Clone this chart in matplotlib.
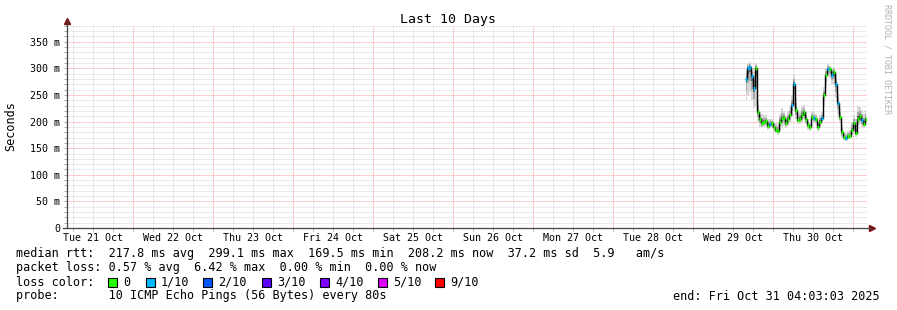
import numpy as np
import pandas as pd
import matplotlib
matplotlib.use("Agg")
import matplotlib.pyplot as plt
import matplotlib.dates as mdates
from matplotlib.patches import Rectangle
from matplotlib.ticker import MultipleLocator, FuncFormatter
from matplotlib.transforms import blended_transform_factory

# time window of the graph
t_start = pd.Timestamp("2025-10-21 04:03:03")
t_end = pd.Timestamp("2025-10-31 04:03:03")
t_first = pd.Timestamp("2025-10-29 15:40")
step = "36min"

# median rtt in ms
median_ms = [280, 300, 302, 285, 263, 300, 218, 205, 197, 200,
             201, 192, 196, 197, 190, 184, 182, 200, 207, 207,
             197, 205, 212, 231, 270, 222, 203, 205, 212, 218,
             205, 194, 190, 209, 207, 205, 190, 200, 207, 250,
             288, 299, 299, 288, 293, 270, 235, 209, 180, 172,
             169, 173, 173, 185, 197, 178, 205, 210, 203, 196,
             205]
# lost pings out of 10
loss = [1, 1, 1, 1, 1, 0, 0, 0, 0, 0,
        0, 0, 1, 0, 0, 0, 0, 0, 0, 0,
        0, 0, 0, 1, 1, 0, 0, 0, 0, 0,
        0, 0, 0, 0, 1, 0, 0, 0, 1, 0,
        0, 1, 0, 1, 0, 1, 1, 0, 0, 0,
        1, 0, 0, 0, 0, 0, 0, 0, 1, 0,
        0]
# smoke (min / max of the pings)
smoke_lo = [240, 250, 255, 240, 225, 230, 200, 190, 188, 190,
            192, 185, 188, 188, 182, 178, 175, 185, 190, 192,
            188, 192, 198, 210, 230, 205, 195, 195, 200, 205,
            195, 185, 182, 198, 198, 195, 182, 190, 198, 230,
            265, 285, 282, 270, 270, 245, 215, 198, 172, 165,
            164, 167, 168, 175, 180, 172, 192, 195, 190, 188,
            192]
smoke_hi = [300, 310, 312, 300, 295, 310, 240, 220, 215, 212,
            212, 205, 205, 205, 200, 198, 195, 215, 225, 220,
            210, 220, 228, 250, 290, 245, 218, 220, 230, 232,
            220, 205, 200, 220, 218, 215, 200, 212, 218, 265,
            300, 308, 305, 300, 302, 290, 255, 225, 195, 180,
            178, 182, 185, 200, 212, 205, 230, 228, 222, 215,
            222]

day_labels = ["Tue 21 Oct", "Wed 22 Oct", "Thu 23 Oct", "Fri 24 Oct", "Sat 25 Oct",
              "Sun 26 Oct", "Mon 27 Oct", "Tue 28 Oct", "Wed 29 Oct", "Thu 30 Oct"]
loss_names = ["0", "1/10", "2/10", "3/10", "4/10", "5/10", "9/10"]
loss_colors = ["#26ff00", "#00b8ff", "#0059ff", "#5e00ff", "#7e00ff", "#dd00ff", "#ff0000"]

legend_rtt = "median rtt:  217.8 ms avg  299.1 ms max  169.5 ms min  208.2 ms now  37.2 ms sd  5.9   am/s"
legend_loss = "packet loss: 0.57 % avg  6.42 % max  0.00 % min  0.00 % now"
legend_probe = "probe:       10 ICMP Echo Pings (56 Bytes) every 80s"
legend_end = "end: Fri Oct 31 04:03:03 2025"

W, H = 897, 310
mono = "DejaVu Sans Mono"
plt.rcParams["font.family"] = mono

fig = plt.figure(figsize=(W / 100, H / 100), dpi=100)
ax = fig.add_axes([67 / W, 82 / H, 800 / W, 203 / H])

times = pd.date_range(t_first, periods=len(median_ms), freq=step).to_pydatetime()
tnum = mdates.date2num(times)
med = np.array(median_ms, float)
lo = np.array(smoke_lo, float)
hi = np.array(smoke_hi, float)

# smoke
ax.fill_between(tnum, lo, hi, step="mid", color="#d6d6d6", lw=0, zorder=2)
ax.fill_between(tnum, med - 0.55 * (med - lo), med + 0.55 * (hi - med), step="mid",
                color="#a8a8a8", lw=0, zorder=2)
ax.fill_between(tnum, med - 0.2 * (med - lo), med + 0.2 * (hi - med), step="mid",
                color="#6a6a6a", lw=0, zorder=2)

# median line + loss colour
ax.plot(tnum, med, drawstyle="steps-mid", color="black", lw=1.0, zorder=3)
half = (tnum[1] - tnum[0]) / 2
ax.hlines(med, tnum - half, tnum + half, colors=[loss_colors[l] for l in loss], lw=2.5, zorder=4)

ax.set_xlim(mdates.date2num(t_start.to_pydatetime()), mdates.date2num(t_end.to_pydatetime()))
ax.set_ylim(0, 381.6)

# grid
ax.xaxis.set_major_locator(mdates.DayLocator())
ax.xaxis.set_minor_locator(mdates.HourLocator(byhour=[6, 12, 18]))
ax.xaxis.set_major_formatter(plt.NullFormatter())
ax.yaxis.set_major_locator(MultipleLocator(50))
ax.yaxis.set_minor_locator(MultipleLocator(10))
ax.yaxis.set_major_formatter(FuncFormatter(lambda v, p: "0" if v == 0 else f"{int(v)} m"))
ax.grid(which="major", color="#ff8c8c", lw=0.6, ls=(0, (1, 1)), zorder=0)
ax.grid(which="minor", color="#cfcfcf", lw=0.6, ls=(0, (1, 1)), zorder=0)
ax.set_axisbelow(True)
ax.tick_params(which="both", direction="out", length=2, width=0.5, color="#888888",
               labelsize=7.2, pad=3)

for s in ax.spines.values():
    s.set_visible(False)
ax.plot([0, 0], [0, 1.02], transform=ax.transAxes, color="#444444", lw=0.9, clip_on=False, zorder=5)
ax.plot([-0.005, 1.005], [0, 0], transform=ax.transAxes, color="#444444", lw=0.9, clip_on=False, zorder=5)
ax.plot([0], [1.022], marker="^", ms=4, color="#7a1010", transform=ax.transAxes, clip_on=False)
ax.plot([1.006], [0], marker=">", ms=4, color="#7a1010", transform=ax.transAxes, clip_on=False)

# day labels at noon
trans = blended_transform_factory(ax.transData, ax.transAxes)
for i, lab in enumerate(day_labels):
    noon = pd.Timestamp("2025-10-21 12:00") + pd.Timedelta(days=i)
    ax.text(mdates.date2num(noon.to_pydatetime()), -0.05, lab, transform=trans,
            ha="center", va="center", fontsize=7.2)

fig.text(447.5 / W, 1 - 19 / H, "Last 10 Days", ha="center", va="center", fontsize=9.5)
fig.text(11 / W, 1 - 126 / H, "Seconds", rotation=90, ha="center", va="center", fontsize=8.5)
fig.text(887 / W, 1 - 59 / H, "RRDTOOL / TOBI OETIKER", rotation=270, ha="center", va="center",
         fontsize=6, color="#b0b0b0")

# legend
fig.text(16 / W, 1 - 254 / H, legend_rtt, ha="left", va="center", fontsize=8.5)
fig.text(16 / W, 1 - 268 / H, legend_loss, ha="left", va="center", fontsize=8.5)
fig.text(16 / W, 1 - 282 / H, "loss color:", ha="left", va="center", fontsize=8.5)
sq_x = [108, 146, 203, 262, 320, 378, 435]
for x, name, c in zip(sq_x, loss_names, loss_colors):
    fig.add_artist(Rectangle((x / W, 1 - 287 / H), 9 / W, 9 / H, transform=fig.transFigure,
                             facecolor=c, edgecolor="black", lw=0.8))
    fig.text((x + 15) / W, 1 - 282 / H, name, ha="left", va="center", fontsize=8.5)
fig.text(16 / W, 1 - 296 / H, legend_probe, ha="left", va="center", fontsize=8.5)
fig.text(880 / W, 1 - 296 / H, legend_end, ha="right", va="center", fontsize=8.5)

fig.savefig("out.png", dpi=100, facecolor="white")
